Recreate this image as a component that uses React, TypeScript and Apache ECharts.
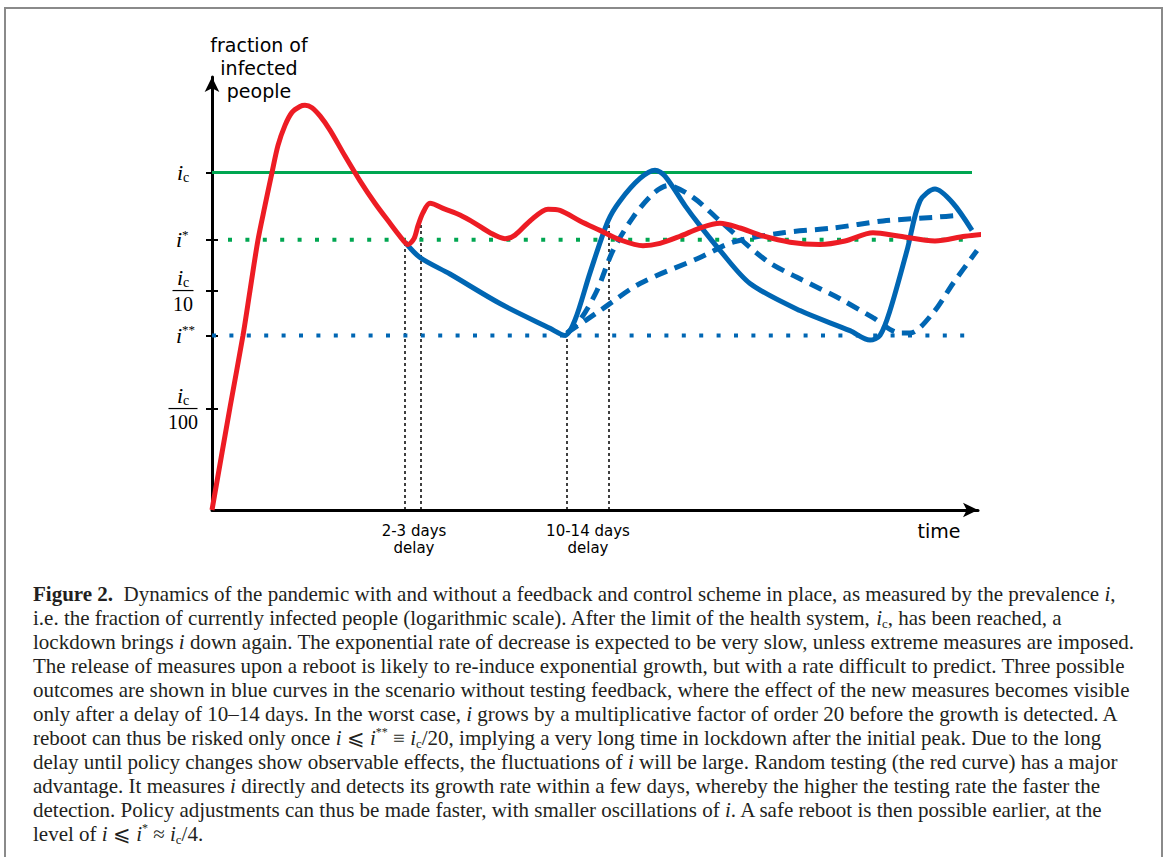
import React, { useEffect, useRef } from "react";
import * as echarts from "echarts";

// Time axis in arbitrary units (0 = outbreak), prevalence axis in log10(i / i_c)
const X_MAX = 766;
const Y_MIN = -2.86;
const Y_MAX = 0.81;

const tickValues = [0, -0.57, -1, -1.38, -2];

const redCurve: [number, number][] = [
  [0, -2.86], [18, -1.99], [31, -1.38], [38, -1.0], [46, -0.57], [53, -0.28], [60, 0],
  [66, 0.23], [73, 0.4], [80, 0.51], [88, 0.56], [93, 0.57], [100, 0.55], [108, 0.48],
  [118, 0.36], [133, 0.14], [148, -0.07], [163, -0.26], [178, -0.43], [188, -0.54],
  [196, -0.61], [202, -0.56], [206, -0.45], [211, -0.34], [218, -0.26], [233, -0.31],
  [248, -0.36], [263, -0.43], [278, -0.51], [293, -0.56], [303, -0.53], [318, -0.41],
  [336, -0.31], [348, -0.32], [368, -0.41], [388, -0.49], [408, -0.57], [431, -0.62],
  [448, -0.6], [468, -0.54], [488, -0.47], [508, -0.43], [528, -0.47], [548, -0.53],
  [578, -0.59], [608, -0.61], [633, -0.58], [661, -0.51], [688, -0.54], [723, -0.58],
  [753, -0.54], [788, -0.51],
];

const blueSolid: [number, number][] = [
  [193, -0.59], [208, -0.72], [238, -0.86], [288, -1.11], [338, -1.32], [353, -1.38],
  [363, -1.25], [378, -0.85], [396, -0.41], [408, -0.24], [428, -0.05], [443, 0.02],
  [453, -0.03], [473, -0.28], [488, -0.45], [508, -0.66], [538, -0.94], [588, -1.17],
  [638, -1.34], [658, -1.42], [668, -1.38], [678, -1.17], [695, -0.66], [708, -0.24],
  [723, -0.14], [741, -0.26], [760, -0.49],
];

const blueDashedFast: [number, number][] = [
  [355, -1.36], [368, -1.25], [385, -1.0], [401, -0.66], [421, -0.38], [441, -0.18],
  [456, -0.11], [481, -0.21], [508, -0.41], [555, -0.75], [588, -0.9], [628, -1.07],
  [661, -1.23], [688, -1.36], [698, -1.36], [721, -1.19], [741, -0.94], [765, -0.66],
];

const blueDashedSlow: [number, number][] = [
  [355, -1.36], [388, -1.17], [428, -0.94], [488, -0.72], [521, -0.59], [571, -0.51],
  [621, -0.47], [671, -0.41], [721, -0.38], [751, -0.36],
];

const icLine: [number, number][] = [[0, 0], [760, 0]];
const iStarLine: [number, number][] = [[16, -0.57], [755, -0.57]];
const iStarStarLine: [number, number][] = [[0, -1.38], [755, -1.38]];

const delayLines: [number, number][] = [[193, -0.59], [209, -0.39], [355, -1.38], [397, -0.41]];
const delayLabels = [
  { t: 202, lines: ["2-3 days", "delay"] },
  { t: 376, lines: ["10-14 days", "delay"] },
];

const captionLines = [
  "{b|Figure 2.}\u2002Dynamics of the pandemic with and without a feedback and control scheme in place, as measured by the prevalence {i|i},",
  "i.e. the fraction of currently infected people (logarithmic scale). After the limit of the health system, {i|i}{s|c}, has been reached, a",
  "lockdown brings {i|i} down again. The exponential rate of decrease is expected to be very slow, unless extreme measures are imposed.",
  "The release of measures upon a reboot is likely to re-induce exponential growth, but with a rate difficult to predict. Three possible",
  "outcomes are shown in blue curves in the scenario without testing feedback, where the effect of the new measures becomes visible",
  "only after a delay of 10\u201314 days. In the worst case, {i|i} grows by a multiplicative factor of order 20 before the growth is detected. A",
  "reboot can thus be risked only once {i|i} \u2A7D {i|i}{p|**} \u2261 {i|i}{s|c}/20, implying a very long time in lockdown after the initial peak. Due to the long",
  "delay until policy changes show observable effects, the fluctuations of {i|i} will be large. Random testing (the red curve) has a major",
  "advantage. It measures {i|i} directly and detects its growth rate within a few days, whereby the higher the testing rate the faster the",
  "detection. Policy adjustments can thus be made faster, with smaller oscillations of {i|i}. A safe reboot is then possible earlier, at the",
  "level of {i|i} \u2A7D {i|i}{p|*} \u2248 {i|i}{s|c}/4.",
];

const RED = "#ED1C24";
const BLUE = "#0066B3";
const GREEN = "#00A651";
const SERIF = "'Liberation Serif', 'DejaVu Serif', serif";
const SANS = "'DejaVu Sans', sans-serif";
const CAP = 21;

function curve(data: [number, number][], color: string, type: any, z: number) {
  return {
    type: "line",
    data,
    showSymbol: false,
    symbol: "none",
    smooth: 0.3,
    clip: false,
    z,
    lineStyle: { color, width: 5, type, cap: "butt" },
  };
}

function level(data: [number, number][], color: string, width: number, type: any, z: number) {
  return {
    type: "line",
    data,
    showSymbol: false,
    symbol: "none",
    clip: false,
    z,
    lineStyle: { color, width, type, cap: "butt" },
  };
}

function buildOption() {
  const series: any[] = [
    level(icLine, GREEN, 3, "solid", 2),
    level(iStarLine, GREEN, 4, [4, 13.4], 2),
    level(iStarStarLine, BLUE, 4, [4, 13.4], 2),
    ...delayLines.map((d) =>
      level([[d[0], Y_MIN], d], "#000", 1.5, [3, 3], 1)
    ),
    curve(blueDashedSlow, BLUE, [13, 8], 3),
    curve(blueDashedFast, BLUE, [13, 8], 3),
    curve(blueSolid, BLUE, "solid", 4),
    curve(redCurve, RED, "solid", 5),
  ];
  const axisBase = {
    type: "value",
    min: Y_MIN,
    max: Y_MAX,
    splitLine: { show: false },
  };
  return {
    animation: false,
    grid: { left: 212, top: 77, width: X_MAX, height: 433, containLabel: false },
    xAxis: {
      type: "value",
      min: 0,
      max: X_MAX,
      axisLine: {
        show: true,
        onZero: false,
        lineStyle: { color: "#000", width: 3 },
        symbol: ["none", "arrow"],
        symbolSize: [11, 15],
      },
      axisTick: { show: false },
      axisLabel: { show: false },
      splitLine: { show: false },
    },
    yAxis: [
      {
        ...axisBase,
        axisLine: {
          show: true,
          onZero: false,
          lineStyle: { color: "#000", width: 3 },
          symbol: ["none", "arrow"],
          symbolSize: [11, 15],
        },
        axisTick: {
          show: true,
          length: 6,
          customValues: tickValues,
          lineStyle: { color: "#000", width: 2 },
        },
        axisLabel: { show: false },
      },
      {
        ...axisBase,
        position: "left",
        axisLine: { show: false },
        axisTick: {
          show: true,
          inside: true,
          length: 6,
          customValues: tickValues,
          lineStyle: { color: "#000", width: 2 },
        },
        axisLabel: { show: false },
      },
    ],
    series,
  };
}

function txt(x: number, y: number, text: string, font: any, align = "center", rich?: any, extra: any = {}) {
  return {
    type: "text",
    z: 10,
    style: {
      x,
      y,
      text,
      fill: "#000",
      ...font,
      align,
      textAlign: align,
      verticalAlign: "middle",
      textVerticalAlign: "middle",
      rich,
      ...extra,
    },
  };
}

function buildGraphic(chart: any) {
  const px = (t: number) => chart.convertToPixel({ xAxisIndex: 0 }, t) as number;
  const py = (v: number) => chart.convertToPixel({ yAxisIndex: 0 }, v) as number;
  const x0 = px(0);
  const yBase = py(Y_MIN);

  const mathRich = {
    i: { fontFamily: SERIF, fontStyle: "italic", fontSize: 22, lineHeight: 24, fill: "#000" },
    c: { fontFamily: SERIF, fontSize: 14, lineHeight: 14, verticalAlign: "bottom", fill: "#000" },
    p: { fontFamily: SERIF, fontSize: 13, lineHeight: 13, verticalAlign: "top", fill: "#000" },
  };
  const mathFont = { fontFamily: SERIF, fontSize: 20 };
  const els: any[] = [];

  // tick labels
  els.push(txt(x0 - 35, py(tickValues[0]), "{i|i}{c|c}", mathFont, "left", mathRich));
  els.push(txt(x0 - 36, py(tickValues[1]), "{i|i}{p|*}", mathFont, "left", mathRich));
  els.push(txt(x0 - 36, py(tickValues[3]), "{i|i}{p|**}", mathFont, "left", mathRich));
  const frac = (v: number, den: string, half: number) => {
    const y = py(v);
    const cx = x0 - 29;
    els.push(txt(cx - 6, y - 13, "{i|i}{c|c}", mathFont, "left", mathRich));
    els.push({
      type: "line",
      z: 10,
      shape: { x1: cx - half, y1: y, x2: cx + half, y2: y },
      style: { stroke: "#000", lineWidth: 1.2 },
    });
    els.push(txt(cx, y + 13, den, mathFont, "center"));
  };
  frac(tickValues[2], "10", 10.5);
  frac(tickValues[4], "100", 14.5);

  // axis titles
  const titleFont = { fontFamily: SANS, fontSize: 19 };
  ["fraction of", "infected", "people"].forEach((s, k) => {
    els.push(txt(px(47), 45 + 23 * k, s, titleFont, "center"));
  });
  els.push(txt(px(727), yBase + 21, "time", titleFont, "center"));

  const delayFont = { fontFamily: SANS, fontSize: 15 };
  delayLabels.forEach((d) => {
    d.lines.forEach((s, k) => {
      els.push(txt(px(d.t), yBase + 21 + 17 * k, s, delayFont, "center"));
    });
  });

  // frame
  els.push({
    type: "rect",
    z: 0,
    shape: { x: 5, y: 8, width: 1157, height: 900 },
    style: { fill: "none", stroke: "#8a8a8a", lineWidth: 2 },
  });

  // caption
  const capRich = {
    b: { fontFamily: SERIF, fontWeight: "bold", fontSize: CAP, lineHeight: 24, fill: "#231f20" },
    i: { fontFamily: SERIF, fontStyle: "italic", fontSize: CAP, lineHeight: 24, fill: "#231f20" },
    s: { fontFamily: SERIF, fontSize: 13, lineHeight: 13, verticalAlign: "bottom", fill: "#231f20" },
    p: { fontFamily: SERIF, fontSize: 12, lineHeight: 12, verticalAlign: "top", fill: "#231f20" },
  };
  captionLines.forEach((line, k) => {
    els.push(
      txt(33, 594 + 24 * k, line, { fontFamily: SERIF, fontSize: CAP, lineHeight: 24 }, "left", capRich, {
        fill: "#231f20",
      })
    );
  });
  return els;
}

export default function App() {
  const ref = useRef<HTMLDivElement>(null);
  useEffect(() => {
    const chart = echarts.init(ref.current!, undefined, { renderer: "svg" });
    chart.setOption(buildOption() as any);
    chart.setOption({ graphic: buildGraphic(chart) } as any);
    return () => chart.dispose();
  }, []);
  return (
    <div
      ref={ref}
      style={{ position: "absolute", left: 0, top: 0, width: 1167, height: 857, background: "#fff" }}
    />
  );
}
